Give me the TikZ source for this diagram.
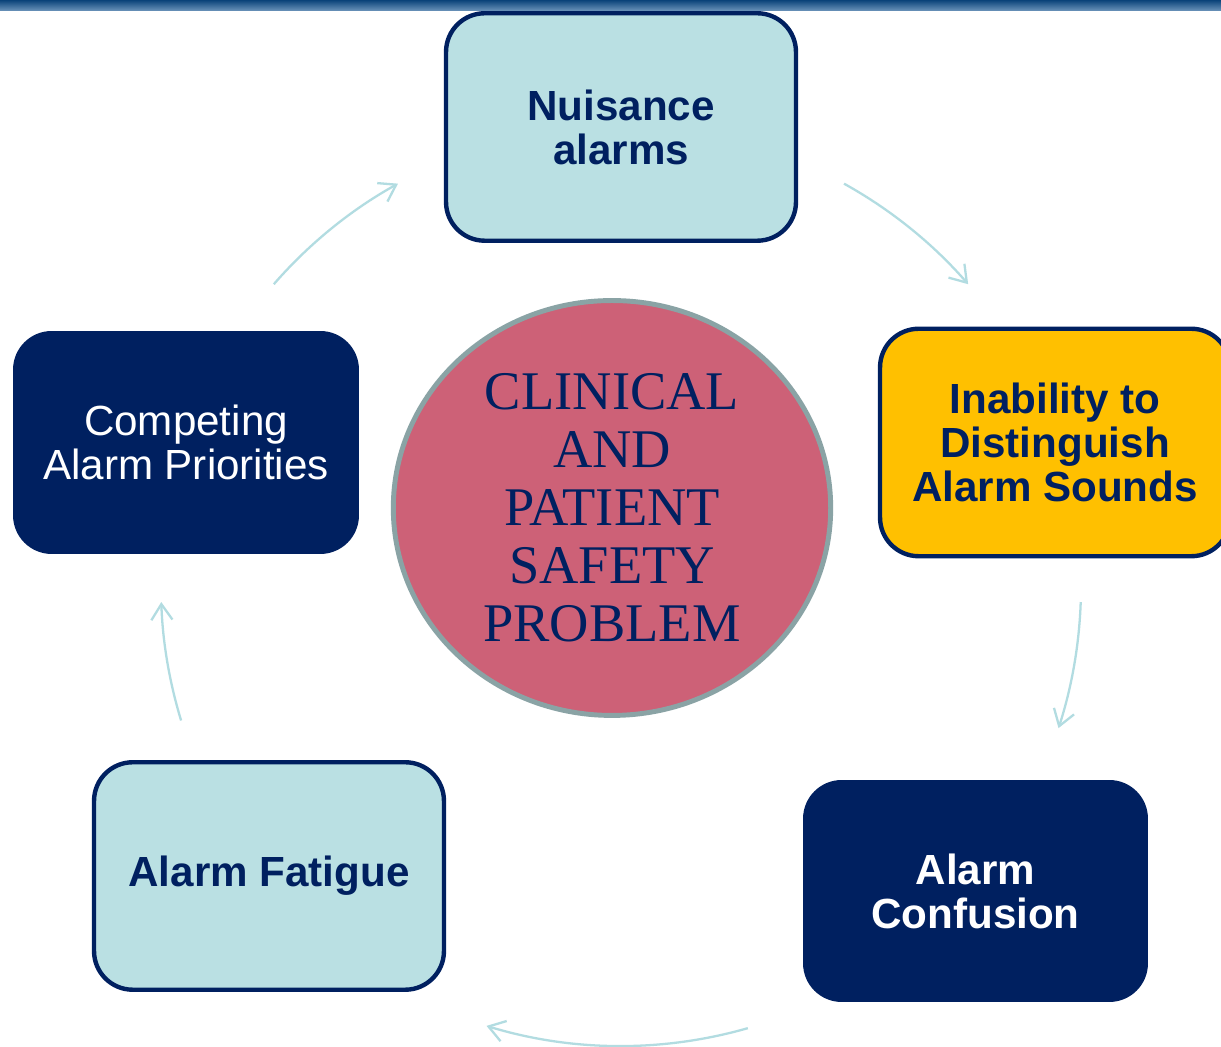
\documentclass[tikz,border=0pt]{standalone}
\usepackage{fontspec}
\setmainfont{Liberation Serif}
\setsansfont{Liberation Sans}
\usetikzlibrary{shapes.geometric,arrows.meta}
\definecolor{navy}{HTML}{002060}
\definecolor{paleblue}{HTML}{BAE0E3}
\definecolor{gold}{HTML}{FFC000}
\definecolor{rose}{HTML}{CD6177}
\definecolor{rim}{HTML}{8AA3A5}
\definecolor{cyclecol}{HTML}{B2DCE1}
\definecolor{barblue}{HTML}{0B4E8E}
\tikzstyle{block} = [rectangle, rounded corners=22pt, align=center,
                 font=\sffamily\fontsize{24}{25}\selectfont, inner sep=0pt]
\tikzstyle{lightblock} = [block, draw=navy, line width=2.5pt, fill=paleblue,
                 text=navy, font=\sffamily\bfseries\fontsize{24}{25}\selectfont]
\tikzstyle{darkblock} = [block, fill=navy, text=white]
\tikzstyle{cycle} = [draw=cyclecol, line width=1.3pt,
                 -{Straight Barb[length=9pt,width=12pt,line width=1.3pt]}]

\begin{document}
\begin{tikzpicture}[x=0.02cm, y=0.02cm]

\clip (0,0) rectangle (1221,1047);
\useasboundingbox (0,0) rectangle (1221,1047);
\fill[white] (0,0) rectangle (1221,1047);
    	%top band
\shade[top color=barblue!85!black, bottom color=barblue!60!white] (0,1036) rectangle (1221,1047);

\node [lightblock, minimum width=7.0cm, minimum height=4.55cm] at (621,920) (nuisance) {Nuisance\\alarms};
\node [lightblock, fill=gold, minimum width=7.0cm, minimum height=4.55cm] at (1055,604.5) (inability) {Inability to\\Distinguish\\Alarm Sounds};
\node [darkblock, font=\sffamily\bfseries\fontsize{24}{25}\selectfont, minimum width=6.9cm, minimum height=4.44cm] at (975.5,156) (confusion) {Alarm\\Confusion};
\node [lightblock, minimum width=7.0cm, minimum height=4.55cm] at (269,171) (fatigue) {Alarm Fatigue};
\node [darkblock, minimum width=6.92cm, minimum height=4.46cm] at (186,604.5) (competing) {Competing\\Alarm Priorities};

\node [ellipse, draw=rim, line width=2.8pt, fill=rose, text=navy, align=center,
       minimum width=8.75cm, minimum height=8.3cm,
       font=\fontsize{31}{33}\selectfont] at (612,539) (problem)
      {CLINICAL\\AND\\PATIENT\\SAFETY\\PROBLEM};

    	%cycle arrows
\coordinate (hub) at (621,461);
\foreach \a/\b in {139/119, 61/41, -2/-18, -74/-107, 197/182}
	\coordinate (s\a) at ([shift={(\a:460)}]hub);
\path [cycle] (s139) arc[start angle=139, end angle=119, radius=460];
\path [cycle] (s61) arc[start angle=61, end angle=41, radius=460];
\path [cycle] (s-2) arc[start angle=-2, end angle=-18, radius=460];
\path [cycle] (s-74) arc[start angle=-74, end angle=-107, radius=460];
\path [cycle] (s197) arc[start angle=197, end angle=182, radius=460];

\end{tikzpicture}
\end{document}
